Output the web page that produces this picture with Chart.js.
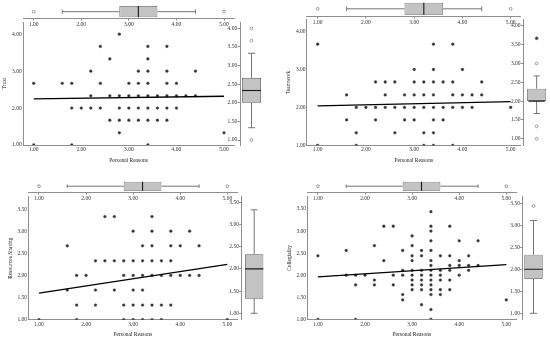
<!DOCTYPE html>
<html>
<head>
<meta charset="utf-8">
<script src="https://cdn.jsdelivr.net/npm/chart.js@4.4.1/dist/chart.umd.min.js"></script>
<style>
  html, body { margin: 0; padding: 0; background: #fff; }
  #stage { position: relative; width: 550px; height: 340px; overflow: hidden; }
  #stage canvas { position: absolute; left: 0; top: 0; }
</style>
</head>
<body>
<div id="stage"></div>
<script>
// tick labels
const xTicks = [1, 2, 3, 4, 5];
const yTicksWhole = [1, 2, 3, 4];
const yTicksHalf = [1, 1.5, 2, 2.5, 3, 3.5];
const boxTicks4 = [1, 1.5, 2, 2.5, 3, 3.5, 4];

// Personal Reasons boxplot (top of every panel): [low whisker, Q1, median, Q3, high whisker]
const reasonsBox = [1.6, 2.8, 3.2, 3.6, 4.4];
const reasonsOutliers = [1.0, 5.0];

// Trust
const trustPoints = [
  [2.8, 4.00],
  [2.4, 3.67], [3.4, 3.67], [3.8, 3.67],
  [2.6, 3.33], [3.4, 3.33],
  [2.2, 3.00], [3.2, 3.00], [3.4, 3.00], [3.8, 3.00], [4.4, 3.00],
  [1.0, 2.67], [1.6, 2.67], [1.8, 2.67], [2.4, 2.67], [3.0, 2.67], [3.2, 2.67], [3.4, 2.67], [3.8, 2.67], [4.0, 2.67],
  [2.2, 2.33], [2.6, 2.33], [2.8, 2.33], [3.0, 2.33], [3.2, 2.33], [3.4, 2.33], [3.6, 2.33], [3.8, 2.33], [4.0, 2.33], [4.2, 2.33], [4.4, 2.33],
  [1.8, 2.00], [2.0, 2.00], [2.2, 2.00], [2.4, 2.00], [2.8, 2.00], [3.0, 2.00], [3.2, 2.00], [3.4, 2.00], [3.6, 2.00], [3.8, 2.00], [4.0, 2.00],
  [2.6, 1.67], [2.8, 1.67], [3.0, 1.67], [3.2, 1.67], [3.4, 1.67], [3.6, 1.67], [3.8, 1.67],
  [2.8, 1.33], [5.0, 1.33],
  [1.0, 1.00], [1.8, 1.00], [3.4, 1.00]
];
const trustFit = [2.25, 2.32];
const trustBox = [1.33, 2.0, 2.33, 2.67, 3.33];
const trustOutliers = [1.0, 3.67, 4.0];

// Teamwork
const teamPoints = [
  [1.0, 3.67], [3.4, 3.67], [3.8, 3.67],
  [3.0, 3.00], [3.4, 3.00], [4.0, 3.00],
  [2.2, 2.67], [2.4, 2.67], [2.6, 2.67], [3.0, 2.67], [3.2, 2.67], [3.4, 2.67], [3.6, 2.67], [3.8, 2.67], [4.4, 2.67],
  [1.6, 2.33], [2.4, 2.33], [2.8, 2.33], [3.0, 2.33], [3.2, 2.33], [3.4, 2.33], [3.8, 2.33], [4.0, 2.33], [4.2, 2.33], [4.4, 2.33],
  [1.8, 2.00], [2.0, 2.00], [2.2, 2.00], [2.4, 2.00], [2.6, 2.00], [2.8, 2.00], [3.0, 2.00], [3.2, 2.00], [3.4, 2.00], [3.6, 2.00], [3.8, 2.00], [4.0, 2.00], [4.2, 2.00], [5.0, 2.00],
  [1.6, 1.67], [2.2, 1.67], [2.8, 1.67], [3.0, 1.67], [3.4, 1.67], [3.6, 1.67],
  [1.8, 1.33], [2.6, 1.33], [3.2, 1.33], [3.4, 1.33],
  [1.0, 1.00], [1.8, 1.00], [3.2, 1.00], [3.4, 1.00], [3.8, 1.00]
];
const teamFit = [2.04, 2.15];
const teamBox = [1.67, 2.0, 2.0, 2.33, 2.67];
const teamOutliers = [1.0, 1.33, 3.0];
const teamExtremes = [3.67];

// Resources Sharing
const resPoints = [
  [2.4, 3.33], [2.6, 3.33], [3.4, 3.33],
  [3.0, 3.00], [3.4, 3.00], [3.8, 3.00], [4.2, 3.00],
  [1.6, 2.67], [3.2, 2.67], [3.4, 2.67], [3.8, 2.67], [4.0, 2.67], [4.4, 2.67],
  [2.2, 2.33], [2.4, 2.33], [2.6, 2.33], [2.8, 2.33], [3.0, 2.33], [3.2, 2.33], [3.4, 2.33], [3.6, 2.33], [3.8, 2.33],
  [1.8, 2.00], [2.0, 2.00], [2.8, 2.00], [3.0, 2.00], [3.2, 2.00], [3.4, 2.00], [3.6, 2.00], [3.8, 2.00], [4.0, 2.00], [4.2, 2.00], [4.4, 2.00],
  [1.6, 1.67], [2.2, 1.67], [2.6, 1.67], [3.0, 1.67], [3.2, 1.67],
  [1.8, 1.33], [2.2, 1.33], [2.8, 1.33], [3.0, 1.33], [3.2, 1.33], [3.4, 1.33], [3.6, 1.33], [3.8, 1.33],
  [1.0, 1.00], [1.8, 1.00], [2.8, 1.00], [3.0, 1.00], [3.2, 1.00], [3.4, 1.00], [3.6, 1.00], [5.0, 1.00]
];
const resFit = [1.6, 2.25];
const resBox = [1.0, 1.33, 2.0, 2.33, 3.33];
const resOutliers = [];

// Collegiality
const collPoints = [
  [3.4, 3.44],
  [2.4, 3.11], [2.6, 3.11], [3.4, 3.11], [3.8, 3.11],
  [3.4, 3.00],
  [3.0, 2.89],
  [3.4, 2.78], [4.0, 2.78], [4.4, 2.78],
  [2.2, 2.67], [3.0, 2.67],
  [1.6, 2.56], [2.8, 2.56], [3.2, 2.56], [3.4, 2.56],
  [1.0, 2.44], [3.0, 2.44], [3.2, 2.44], [3.6, 2.44], [3.8, 2.44], [4.2, 2.44],
  [2.4, 2.33], [3.0, 2.33], [3.4, 2.33], [4.0, 2.33],
  [3.4, 2.22], [3.8, 2.22], [4.0, 2.22], [4.2, 2.22], [4.4, 2.22],
  [2.8, 2.11], [3.0, 2.11], [3.2, 2.11], [3.4, 2.11], [3.6, 2.11], [3.8, 2.11], [4.2, 2.11],
  [1.6, 2.00], [1.8, 2.00], [2.0, 2.00], [2.6, 2.00], [2.8, 2.00], [3.0, 2.00], [3.2, 2.00], [3.4, 2.00], [3.6, 2.00], [4.0, 2.00],
  [2.2, 1.89], [3.0, 1.89], [3.2, 1.89], [3.4, 1.89], [3.6, 1.89], [3.8, 1.89],
  [1.8, 1.78], [2.2, 1.78], [2.6, 1.78], [3.0, 1.78], [3.2, 1.78], [3.4, 1.78],
  [3.0, 1.67], [3.2, 1.67], [3.4, 1.67], [3.6, 1.67], [3.8, 1.67],
  [2.8, 1.56], [3.4, 1.56], [3.6, 1.56],
  [2.8, 1.44], [5.0, 1.44],
  [3.2, 1.33],
  [3.4, 1.22],
  [1.0, 1.00], [1.8, 1.00], [3.4, 1.00]
];
const collFit = [1.96, 2.24];
const collBox = [1.0, 1.78, 2.0, 2.33, 3.11];
const collOutliers = [3.44];

// ---- drawing ----
Chart.defaults.font.family = "'Liberation Serif', 'Times New Roman', serif";
Chart.defaults.font.size = 5.5;
Chart.defaults.color = '#333';
Chart.defaults.animation = false;
Chart.defaults.plugins.legend.display = false;
Chart.defaults.plugins.tooltip.enabled = false;

const W = 550, H = 340;
const LH = 5.5 * 1.2;
const X_MIN = 0.775, X_MAX = 5.21;
const AXIS = '#8f8f8f';
const WHISK = '#666';

// layout of each panel, in page pixels
const panels = [
  { title: 'Trust', points: trustPoints, fit: trustFit, box: trustBox, out: trustOutliers, ext: [],
    yTicks: yTicksWhole, boxTicks: boxTicks4,
    sc: { l: 23, r: 234, t: 22, b: 145, ymax: 4.33 }, titleX: 5, tickY: 150, titleY: 161,
    top: { axis: 18.5, c: 11.7, thick: 11.3 },
    side: { l: 240, c: 251.5, w: 19, min: 0.866, max: 4.17 } },
  { title: 'Teamwork', points: teamPoints, fit: teamFit, box: teamBox, out: teamOutliers, ext: teamExtremes,
    yTicks: yTicksWhole, boxTicks: boxTicks4,
    sc: { l: 306.8, r: 520.8, t: 19.5, b: 145.3, ymax: 4.32 }, titleX: 288.3, tickY: 150, titleY: 161,
    top: { axis: 16.7, c: 8.8, thick: 12 },
    side: { l: 523.3, c: 538.8, w: 19, min: 0.824, max: 4.17 } },
  { title: 'Resources Sharing', points: resPoints, fit: resFit, box: resBox, out: resOutliers, ext: [],
    yTicks: yTicksHalf, boxTicks: yTicksHalf,
    sc: { l: 28.4, r: 237.2, t: 196.7, b: 319.7, ymax: 3.78 }, titleX: 10.7, tickY: 324.3, titleY: 334.3,
    top: { axis: 192.7, c: 186.2, thick: 9 },
    side: { l: 241.7, c: 254.2, w: 18.3, min: 0.856, max: 3.626 } },
  { title: 'Collegiality', points: collPoints, fit: collFit, box: collBox, out: collOutliers, ext: [],
    yTicks: yTicksHalf, boxTicks: yTicksHalf,
    sc: { l: 307.3, r: 516.2, t: 196.7, b: 319.3, ymax: 3.78 }, titleX: 290, tickY: 324.3, titleY: 334.3,
    top: { axis: 192.7, c: 186.2, thick: 9 },
    side: { l: 522.7, c: 533.5, w: 18.4, min: 0.864, max: 3.65 } }
];

function makeCanvas() {
  const c = document.createElement('canvas');
  c.width = W; c.height = H;
  document.getElementById('stage').appendChild(c);
  return c.getContext('2d');
}

const fixedTicks = vals => scale => { scale.ticks = vals.map(v => ({ value: v })); };
const fmt = v => Number(v).toFixed(2);

function lineSet(data, color, width) {
  return { type: 'scatter', data, showLine: true, borderColor: color, borderWidth: width,
           pointRadius: 0, fill: false };
}

// boxplot pieces; the cross axis is in pixels centred on 0
function boxSets(stats, outliers, extremes, horiz, thick) {
  const [lo, q1, med, q3, hi] = stats;
  const half = thick / 2, cap = thick * 0.19;
  const P = horiz ? (v, o) => ({ x: v, y: o }) : (v, o) => ({ x: o, y: v });
  return [
    lineSet([P(med, -half), P(med, half)], '#1a1a1a', 1.1),
    lineSet([P(lo, 0), P(q1, 0)], WHISK, 0.9),
    lineSet([P(q3, 0), P(hi, 0)], WHISK, 0.9),
    lineSet([P(lo, -cap), P(lo, cap)], WHISK, 0.9),
    lineSet([P(hi, -cap), P(hi, cap)], WHISK, 0.9),
    { type: 'scatter', data: outliers.map(v => P(v, 0)), pointStyle: 'circle', pointRadius: 1.4,
      pointBackgroundColor: '#fff', pointBorderColor: '#777', pointBorderWidth: 0.7 },
    { type: 'scatter', data: extremes.map(v => P(v, 0)), pointStyle: 'star', pointRadius: 1.8,
      pointBorderColor: '#333', pointBorderWidth: 0.9 },
    { type: 'bar', indexAxis: horiz ? 'y' : 'x',
      data: [horiz ? { x: [q1, q3], y: 0 } : { x: 0, y: [q1, q3] }],
      barThickness: thick, backgroundColor: '#c3c3c3', borderColor: '#5a5a5a', borderWidth: 0.8,
      borderSkipped: false, inflateAmount: 0 }
  ];
}

panels.forEach(p => {
  const g = p.sc;
  const yW = g.l - (p.titleX - LH / 2);
  const xH = p.titleY - g.b + LH / 2;

  // scatter with fit line
  new Chart(makeCanvas(), {
    type: 'scatter',
    data: { datasets: [
      lineSet([{ x: 1, y: p.fit[0] }, { x: 5, y: p.fit[1] }], '#000', 1.3),
      { data: p.points.map(([x, y]) => ({ x, y })), pointRadius: 1.4,
        pointBackgroundColor: '#333', pointBorderColor: '#555', pointBorderWidth: 0.4 }
    ] },
    options: {
      responsive: false,
      layout: { autoPadding: false,
        padding: { left: g.l - yW, top: g.t, right: W - g.r, bottom: H - g.b - xH } },
      scales: {
        x: { type: 'linear', min: X_MIN, max: X_MAX,
          afterBuildTicks: fixedTicks(xTicks), afterFit: s => { s.height = xH; },
          grid: { display: false, drawTicks: false, tickLength: 0 },
          border: { display: true, color: AXIS, width: 1 },
          ticks: { callback: fmt, padding: p.tickY - g.b - LH / 2, maxRotation: 0, autoSkip: false },
          title: { display: true, text: 'Personal Reasons', padding: 0, color: '#222' } },
        y: { type: 'linear', min: 1, max: g.ymax,
          afterBuildTicks: fixedTicks(p.yTicks), afterFit: s => { s.width = yW; },
          grid: { display: false, drawTicks: false, tickLength: 0 },
          border: { display: true, color: AXIS, width: 1 },
          ticks: { callback: fmt, padding: 1.3, autoSkip: false },
          title: { display: true, text: p.title, padding: 0, color: '#222' } }
      }
    }
  });

  // Personal Reasons boxplot on top
  const t = p.top, th = t.axis - t.c;
  new Chart(makeCanvas(), {
    type: 'scatter',
    data: { datasets: boxSets(reasonsBox, reasonsOutliers, [], true, t.thick) },
    options: {
      responsive: false,
      layout: { autoPadding: false,
        padding: { left: g.l, right: W - g.r, top: t.axis - 2 * th, bottom: H - t.axis - 10 } },
      scales: {
        x: { type: 'linear', min: X_MIN, max: X_MAX, position: 'bottom', offset: false,
          afterBuildTicks: fixedTicks(xTicks), afterFit: s => { s.height = 10; },
          grid: { display: true, drawOnChartArea: false, drawTicks: true, tickLength: 2, color: AXIS, offset: false },
          border: { display: true, color: AXIS, width: 1 },
          ticks: { callback: fmt, padding: 1, maxRotation: 0, autoSkip: false } },
        y: { type: 'linear', display: false, min: -th, max: th, offset: false, grid: { offset: false } }
      }
    }
  });

  // outcome boxplot on the right
  const s = p.side, sh = s.c - s.l;
  new Chart(makeCanvas(), {
    type: 'scatter',
    data: { datasets: boxSets(p.box, p.out, p.ext, false, s.w) },
    options: {
      responsive: false,
      layout: { autoPadding: false,
        padding: { left: s.l - 16, right: W - (s.l + 2 * sh), top: g.t, bottom: H - g.b } },
      scales: {
        x: { type: 'linear', display: false, min: -sh, max: sh, offset: false, grid: { offset: false } },
        y: { type: 'linear', min: s.min, max: s.max, position: 'left', offset: false,
          afterBuildTicks: fixedTicks(p.boxTicks), afterFit: sc => { sc.width = 16; },
          grid: { display: true, drawOnChartArea: false, drawTicks: true, tickLength: 2.5, color: AXIS, offset: false },
          border: { display: true, color: AXIS, width: 1 },
          ticks: { callback: fmt, padding: 0.3, autoSkip: false } }
      }
    }
  });
});
</script>
</body>
</html>
